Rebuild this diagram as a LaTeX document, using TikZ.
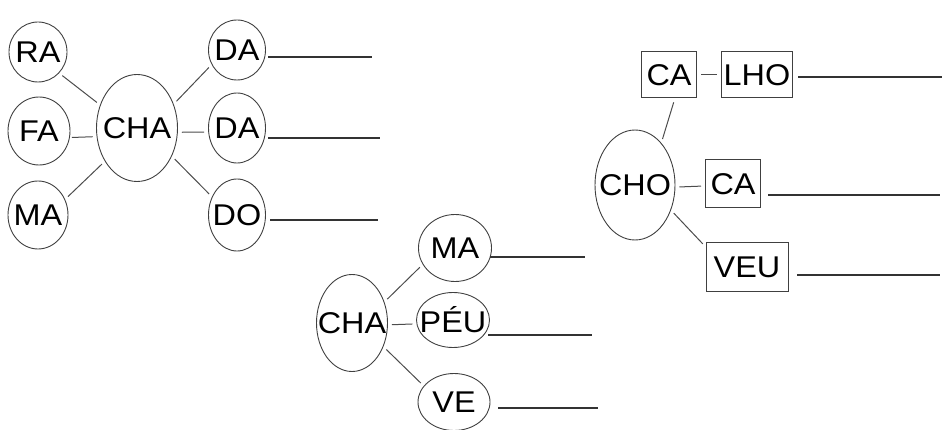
\documentclass[tikz,border=0pt]{standalone}
\usepackage{fontspec}
\setmainfont{Liberation Sans}[FakeStretch=1.08]
\usetikzlibrary{shapes.geometric}
\newcommand{\sy}[1]{\makebox[0pt]{#1}}
\tikzset{
	syl/.style={ellipse, draw=black!75, line width=0.9pt, inner sep=0pt, text=black},
	box/.style={rectangle, draw=black!75, line width=1pt, inner sep=0pt, minimum height=46pt},
	link/.style={draw=black!70, line width=1pt, shorten <=4pt, shorten >=4pt},
	blank/.style={draw=black!80, line width=1.4pt}
}
\begin{document}
\begin{tikzpicture}[x=1pt, y=-1pt, font=\fontsize{30}{32}\selectfont]
	\useasboundingbox (0,0) rectangle (942,430);
	%%%%% START %%%%%
	
	% CHA with RA, FA, MA and DA, DA, DO
	\node[syl, minimum width=81pt, minimum height=107pt] (cha) at (137,128) {\sy{CHA}};
	\node[syl, minimum width=58pt, minimum height=60pt] (ra) at (38,52) {\sy{RA}};
	\node[syl, minimum width=62pt, minimum height=68pt] (fa) at (39,131) {\sy{FA}};
	\node[syl, minimum width=60pt, minimum height=68pt] (ma) at (38,215) {\sy{MA}};
	\node[syl, minimum width=57pt, minimum height=60pt] (da) at (237,50) {\sy{DA}};
	\node[syl, minimum width=57pt, minimum height=70pt] (dab) at (237,128) {\sy{DA}};
	\node[syl, minimum width=57pt, minimum height=72pt] (do) at (237,215) {\sy{DO}};
	
	\draw[link] (ra.-45) -- (cha.148);
	\draw[link, shorten <=2pt] (fa.-12) -- (cha.192);
	\draw[link] (ma.30) -- (cha.226);
	\draw[link] (cha.33) -- (da.210);
	\draw[link] (cha.-6) -- (dab.188);
	\draw[link] (cha.-39) -- (do.144);
	
	\coordinate (daL) at (268,57);   \coordinate (daR) at (372,57);
	\coordinate (dabL) at (268,138); \coordinate (dabR) at (380,138);
	\coordinate (doL) at (270,220);  \coordinate (doR) at (378,220);
	\draw[blank] (daL) -- (daR);
	\draw[blank] (dabL) -- (dabR);
	\draw[blank] (doL) -- (doR);
	
	% CHA with MA, PÉU, VE
	\node[syl, minimum width=71pt, minimum height=97pt] (chb) at (352,323) {\sy{CHA}};
	\node[syl, minimum width=73pt, minimum height=67pt] (mab) at (455,248) {\sy{MA}};
	\node[syl, minimum width=73pt, minimum height=55pt] (peu) at (453,320) {\sy{PÉU}};
	\node[syl, minimum width=72pt, minimum height=57pt] (ve) at (454,402) {\sy{VE}};
	
	\draw[link] (chb.33) -- (mab.207);
	\draw[link] (chb.-3) -- (peu.186);
	\draw[link] (chb.-37) -- (ve.152);
	
	\coordinate (mabL) at (490,257); \coordinate (mabR) at (585,257);
	\coordinate (peuL) at (488,335); \coordinate (peuR) at (592,335);
	\coordinate (veL) at (498,408);  \coordinate (veR) at (598,408);
	\draw[blank] (mabL) -- (mabR);
	\draw[blank] (peuL) -- (peuR);
	\draw[blank] (veL) -- (veR);
	
	% CHO with CA-LHO, CA, VEU
	\node[syl, minimum width=80pt, minimum height=110pt] (cho) at (635,185) {\sy{CHO}};
	\node[box, minimum width=55pt] (ca) at (669,75) {CA};
	\node[box, minimum width=71pt] (lho) at (757,75) {LHO};
	\node[box, minimum width=55pt, minimum height=48pt] (cab) at (733,184) {CA};
	\node[box, minimum width=82pt, minimum height=49pt] (veu) at (747,267) {VEU};
	
	\draw[link] (cho.58) -- (ca.-76);
	\draw[link] (ca.east) -- (lho.west);
	\draw[link] (cho.-3) -- (cab.184);
	\draw[link] (cho.-35) -- (veu.154);
	
	\coordinate (lhoL) at (798,77); \coordinate (lhoR) at (942,77);
	\coordinate (cabL) at (768,195); \coordinate (cabR) at (940,195);
	\coordinate (veuL) at (797,275); \coordinate (veuR) at (940,275);
	\draw[blank] (lhoL) -- (lhoR);
	\draw[blank] (cabL) -- (cabR);
	\draw[blank] (veuL) -- (veuR);
	
	%%%%% END %%%%%
\end{tikzpicture}
\end{document}
